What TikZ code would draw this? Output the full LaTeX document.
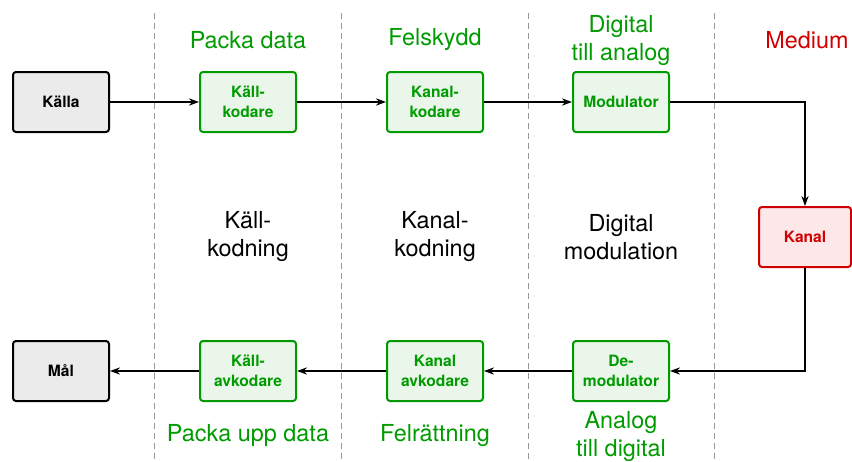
\documentclass[tikz,border=0pt]{standalone}
\usepackage{fontspec}
\setmainfont{TeX Gyre Heros}
\usetikzlibrary{arrows.meta}
\definecolor{kodgron}{RGB}{0,155,0}
\definecolor{kodgronljus}{RGB}{234,246,234}
\definecolor{medrod}{RGB}{208,0,0}
\definecolor{medrodljus}{RGB}{252,232,232}
\definecolor{ljusgra}{RGB}{235,235,235}
\definecolor{streckgra}{RGB}{150,150,150}
\tikzset{every picture/.style={line width=0.65pt}}

\begin{document}
\begin{tikzpicture}[x=0.5pt,y=-0.5pt,
    blk/.style={draw, rounded corners=1.5pt, line width=1pt, minimum width=48pt, minimum height=30pt,
      align=center, font=\fontsize{7.8}{10}\selectfont\bfseries},
    endblk/.style={blk, fill=ljusgra},
    kodblk/.style={blk, draw=kodgron, fill=kodgronljus, text=kodgron},
    medblk/.style={blk, draw=medrod, fill=medrodljus, text=medrod, minimum width=46pt},
    etikett/.style={align=center, font=\fontsize{11.7}{14}\selectfont},
    pil/.style={-{Stealth[length=5pt, width=3.6pt, inset=1.6pt]}},
    skiljelinje/.style={streckgra, line width=0.5pt, dash pattern=on 3pt off 2pt}]
  \useasboundingbox (0,0) rectangle (852,461);
  \foreach \x in {154,341,528,714} \draw[skiljelinje] (\x,13) -- (\x,461);

  \node[endblk] (kalla) at (61,102) {Källa};
  \node[kodblk] (kallkod) at (248,102) {Käll-\\kodare};
  \node[kodblk] (kanalkod) at (435,102) {Kanal-\\kodare};
  \node[kodblk] (mod) at (621,102) {Modulator};
  \node[medblk] (kanal) at (805,237) {Kanal};
  \node[kodblk] (demod) at (621,371) {De-\\modulator};
  \node[kodblk] (kanalavk) at (435,371) {Kanal\\avkodare};
  \node[kodblk] (kallavk) at (248,371) {Käll-\\avkodare};
  \node[endblk] (mal) at (61,371) {Mål};

  \node[etikett, text=kodgron] (packa) at (248,40) {Packa data};
  \node[etikett, text=kodgron] (felskydd) at (435,40) {Felskydd};
  \node[etikett, text=kodgron] (dtilla) at (621,41) {Digital\\till analog};
  \node[etikett, text=medrod] (medium) at (807,40) {Medium};
  \node[etikett] (kallkodning) at (248,237) {Käll-\\kodning};
  \node[etikett] (kanalkodning) at (435,237) {Kanal-\\kodning};
  \node[etikett] (digmod) at (621,237) {Digital\\modulation};
  \node[etikett, text=kodgron] (packaupp) at (248,436) {Packa upp data};
  \node[etikett, text=kodgron] (felratt) at (435,436) {Felrättning};
  \node[etikett, text=kodgron] (atilld) at (621,437) {Analog\\till digital};

  \draw[pil] (kalla) -- (kallkod);
  \draw[pil] (kallkod) -- (kanalkod);
  \draw[pil] (kanalkod) -- (mod);
  \draw[pil] (mod) -| (kanal);
  \draw[pil] (kanal) |- (demod);
  \draw[pil] (demod) -- (kanalavk);
  \draw[pil] (kanalavk) -- (kallavk);
  \draw[pil] (kallavk) -- (mal);
\end{tikzpicture}
\end{document}
